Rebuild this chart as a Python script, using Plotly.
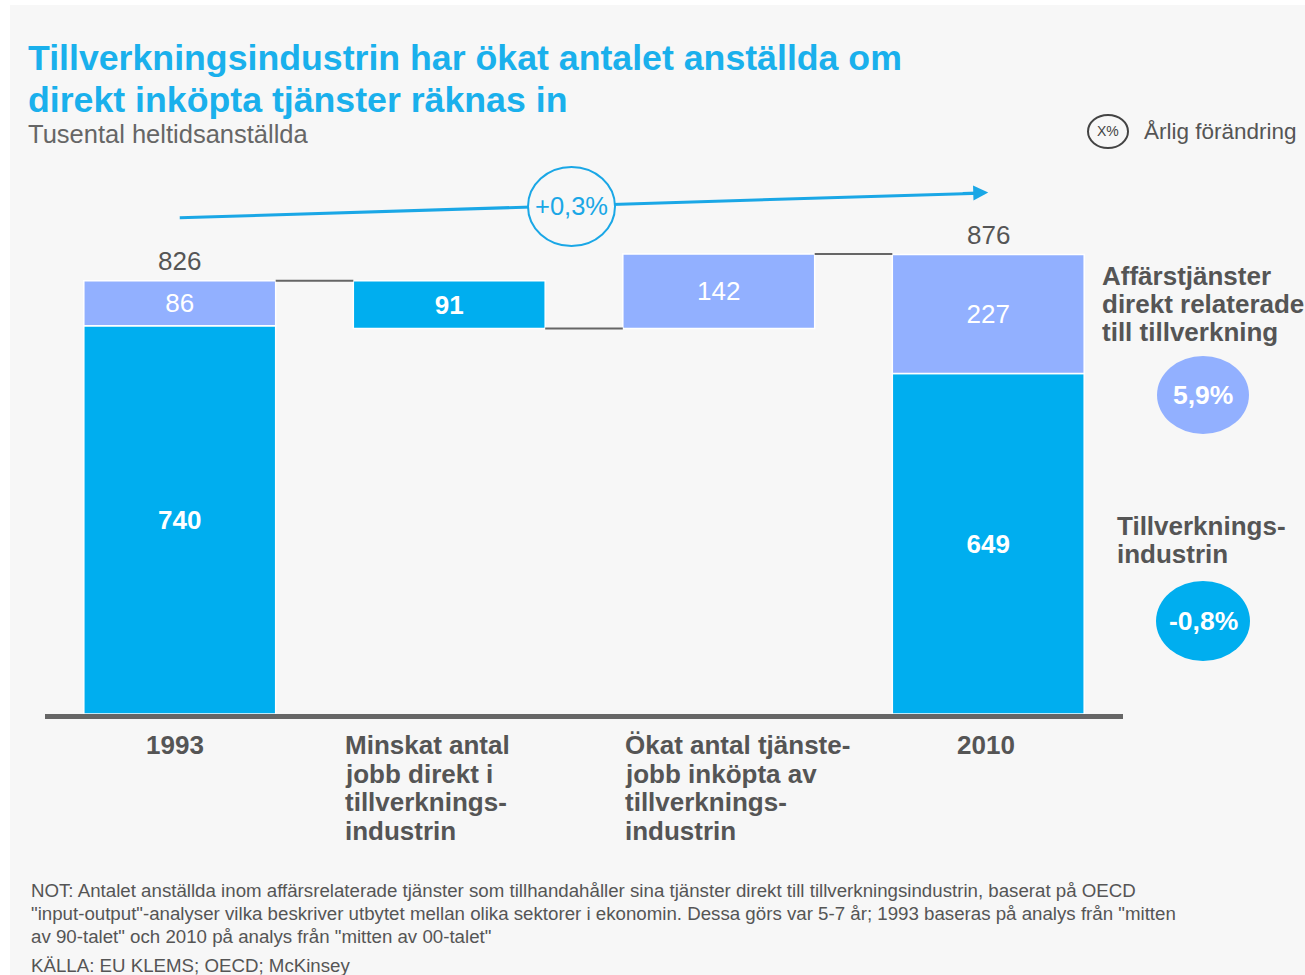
import plotly.graph_objects as go

# ---------------- data ----------------
categories = ["1993",
              "Minskat antal<br>jobb direkt i<br>tillverknings-<br>industrin",
              "Ökat antal tjänste-<br>jobb inköpta av<br>tillverknings-<br>industrin",
              "2010"]
manufacturing = [740, -91, None, 649]      # Tillverkningsindustrin (start, change, -, end)
services = [86, None, 142, 227]            # Affärstjänster direkt relaterade till tillverkning
totals = [826, None, None, 876]
cagr_total = "+0,3%"
cagr_services = "5,9%"
cagr_manufacturing = "-0,8%"

DARK = "#00aeef"
LIGHT = "#92b0ff"
GRAY = "#555555"
BG = "#f7f7f7"
FONT = "Liberation Sans"

# ---------------- layout geometry ----------------
W, H = 1305, 975
L, R, T, B = 45, 182, 158, 261
PW, PH = W - L - R, H - T - B
YMAX = 1060


def px(x):
    return (x - L) / PW


def py(y):
    return (H - B - y) / PH


# waterfall bases
start_total = manufacturing[0] + services[0]
after_drop = start_total + manufacturing[1]
after_rise = after_drop + services[2]

m_x, m_y, m_base, m_text = [], [], [], []
s_x, s_y, s_base, s_text = [], [], [], []
# 1993
m_x.append(0); m_y.append(manufacturing[0]); m_base.append(0); m_text.append(f"<b>{manufacturing[0]}</b>")
s_x.append(0); s_y.append(services[0]); s_base.append(manufacturing[0]); s_text.append(f"{services[0]}")
# drop
m_x.append(1); m_y.append(-manufacturing[1]); m_base.append(after_drop); m_text.append(f"<b>{-manufacturing[1]}</b>")
# rise
s_x.append(2); s_y.append(services[2]); s_base.append(after_drop); s_text.append(f"{services[2]}")
# 2010
m_x.append(3); m_y.append(manufacturing[3]); m_base.append(0); m_text.append(f"<b>{manufacturing[3]}</b>")
s_x.append(3); s_y.append(services[3]); s_base.append(manufacturing[3]); s_text.append(f"{services[3]}")

BW = 0.712
fig = go.Figure()
fig.add_trace(go.Bar(x=m_x, y=m_y, base=m_base, width=BW, marker=dict(color=DARK, line=dict(color="white", width=1.5)),
                     text=m_text, textposition="inside", insidetextanchor="middle", textangle=0,
                     textfont=dict(family=FONT, size=26, color="white"), hoverinfo="skip"))
fig.add_trace(go.Bar(x=s_x, y=s_y, base=s_base, width=BW, marker=dict(color=LIGHT, line=dict(color="white", width=1.5)),
                     text=s_text, textposition="inside", insidetextanchor="middle", textangle=0,
                     textfont=dict(family=FONT, size=26, color="white"), hoverinfo="skip"))

shapes = []
# background panel
shapes.append(dict(type="rect", xref="paper", yref="paper", x0=px(10), x1=px(1305), y0=py(975), y1=py(5),
                   fillcolor=BG, line=dict(width=0), layer="below"))
# connectors
levels = [start_total, after_drop, after_rise]
for i, lv in enumerate(levels):
    shapes.append(dict(type="line", xref="x", yref="y", x0=i + BW / 2, x1=i + 1 - BW / 2, y0=lv, y1=lv,
                       line=dict(color="#666666", width=2)))
# trend arrow line
shapes.append(dict(type="line", xref="x", yref="y", x0=0, x1=2.97, y0=946, y1=993,
                   line=dict(color="#1aa7e6", width=3)))
# circle around total cagr
shapes.append(dict(type="circle", xref="paper", yref="paper", x0=px(528), x1=px(615), y0=py(246), y1=py(167),
                   fillcolor=BG, line=dict(color="#1aa7e6", width=2)))
# cagr bubbles
shapes.append(dict(type="circle", xref="paper", yref="paper", x0=px(1157), x1=px(1249), y0=py(434), y1=py(356),
                   fillcolor=LIGHT, line=dict(width=0)))
shapes.append(dict(type="circle", xref="paper", yref="paper", x0=px(1156), x1=px(1250), y0=py(661), y1=py(581),
                   fillcolor=DARK, line=dict(width=0)))
# legend circle
shapes.append(dict(type="circle", xref="paper", yref="paper", x0=px(1088), x1=px(1128), y0=py(148), y1=py(115),
                   fillcolor=BG, line=dict(color="#444444", width=2)))

ann = []


def text(x, y, t, size, color=GRAY, xanchor="left", yanchor="middle", bold=False):
    if bold:
        t = f"<b>{t}</b>"
    ann.append(dict(xref="paper", yref="paper", x=px(x), y=py(y), text=t, showarrow=False,
                    xanchor=xanchor, yanchor=yanchor, align="left",
                    font=dict(family=FONT, size=size, color=color)))


def lines(x, y0, t, size, spacing, color=GRAY, xanchor="left", bold=False):
    for k, part in enumerate(t.split("<br>")):
        text(x, y0 + spacing * k, part, size, color, xanchor=xanchor, bold=bold)


# title & subtitle
text(26, 58, "Tillverkningsindustrin har ökat antalet anställda om", 35.7, "#1ab0ec", bold=True)
text(26, 100, "direkt inköpta tjänster räknas in", 35.7, "#1ab0ec", bold=True)
text(26, 134, "Tusental heltidsanställda", 25.5, "#666666")

# legend
text(1108, 131, "X%", 14, "#444444", xanchor="center")
text(1142, 131, "Årlig förändring", 22.5, GRAY)

# totals above bars
for i, tv in enumerate(totals):
    if tv is not None:
        ann.append(dict(xref="x", yref="y", x=i, y=tv, text=str(tv), showarrow=False, yanchor="bottom", yshift=3,
                        font=dict(family=FONT, size=26, color=GRAY)))

# arrowhead
ann.append(dict(xref="x", yref="y", axref="x", ayref="y", x=3.0, y=994, ax=2.9, ay=992.4, text="",
                showarrow=True, arrowhead=2, arrowsize=1, arrowwidth=3, arrowcolor="#1aa7e6"))
text(571, 206, cagr_total, 25.5, "#1aa7e6", xanchor="center")

# series labels right
lines(1100, 276, "Affärstjänster<br>direkt relaterade<br>till tillverkning", 26, 28, bold=True)
lines(1115, 526, "Tillverknings-<br>industrin", 26, 28, bold=True)
text(1203, 395, cagr_services, 26.5, "white", xanchor="center", bold=True)
text(1203, 621, cagr_manufacturing, 26.5, "white", xanchor="center", bold=True)

# category labels
cat_pos = [(175, "center"), (343, "left"), (623, "left"), (986, "center")]
for (x, anc), c in zip(cat_pos, categories):
    lines(x, 745, c, 26, 28.5, xanchor=anc, bold=True)

# footnote
notes = [
    "NOT: Antalet anställda inom affärsrelaterade tjänster som tillhandahåller sina tjänster direkt till tillverkningsindustrin, baserat på OECD",
    "\"input-output\"-analyser vilka beskriver utbytet mellan olika sektorer i ekonomin. Dessa görs var 5-7 år; 1993 baseras på analys från \"mitten",
    "av 90-talet\" och 2010 på analys från \"mitten av 00-talet\"",
]
for k, n in enumerate(notes):
    text(29, 890 + 23 * k, n, 18.7, GRAY)
text(29, 965, "KÄLLA: EU KLEMS; OECD; McKinsey", 18.7, GRAY)

fig.update_layout(
    width=W, height=H, margin=dict(l=L, r=R, t=T, b=B),
    paper_bgcolor="white", plot_bgcolor="rgba(0,0,0,0)",
    barmode="overlay", showlegend=False,
    xaxis=dict(range=[-0.5, 3.5], showticklabels=False, showgrid=False, zeroline=False, ticks="",
               showline=True, linecolor="#666666", linewidth=5, fixedrange=True),
    yaxis=dict(range=[0, YMAX], visible=False, fixedrange=True),
    shapes=shapes, annotations=ann,
)

fig.write_html("out.html", config={"displayModeBar": False},
               post_script="document.body.style.margin='0';document.body.style.overflow='hidden';")
